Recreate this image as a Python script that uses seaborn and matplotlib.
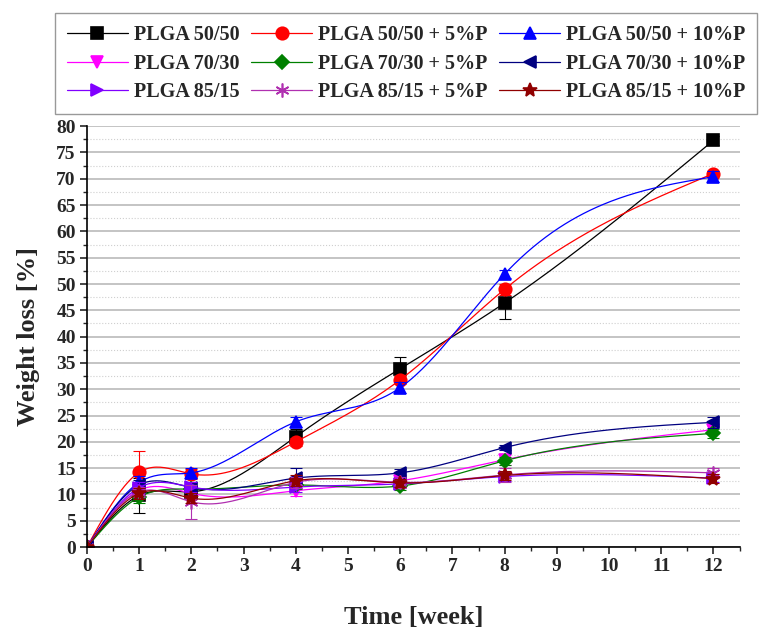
import numpy as np
import matplotlib
matplotlib.use("Agg")
import matplotlib.pyplot as plt
from matplotlib.lines import Line2D
from matplotlib.ticker import MultipleLocator
import seaborn as sns

# data
weeks = [0, 1, 2, 4, 6, 8, 12]
labels = ["PLGA 50/50", "PLGA 50/50 + 5%P", "PLGA 50/50 + 10%P",
          "PLGA 70/30", "PLGA 70/30 + 5%P", "PLGA 70/30 + 10%P",
          "PLGA 85/15", "PLGA 85/15 + 5%P", "PLGA 85/15 + 10%P"]
plga5050 = [0, 9.8, 10.5, 21.0, 33.9, 46.4, 77.3]
plga5050_5 = [0, 14.2, 13.9, 20.0, 31.8, 49.0, 71.0]
plga5050_10 = [0, 12.3, 14.1, 23.8, 30.3, 51.9, 70.4]
plga7030 = [0, 10.8, 10.2, 10.7, 12.6, 16.6, 22.3]
plga7030_5 = [0, 9.5, 11.0, 11.8, 11.6, 16.4, 21.6]
plga7030_10 = [0, 11.8, 11.3, 13.1, 14.1, 18.9, 23.7]
plga8515 = [0, 11.3, 11.4, 11.4, 12.0, 13.4, 13.1]
plga8515_5 = [0, 10.5, 8.6, 12.3, 12.3, 13.7, 14.1]
plga8515_10 = [0, 10.2, 9.3, 12.6, 12.2, 13.6, 13.0]

err5050 = [0, 3.3, 1.0, 1.5, 2.3, 3.0, 0.8]
err5050_5 = [0, 4.0, 1.0, 0.8, 0.8, 1.0, 0.5]
err5050_10 = [0, 1.2, 1.0, 1.0, 1.0, 0.8, 1.0]
err7030 = [0, 1.0, 1.0, 1.0, 1.0, 1.0, 0.8]
err7030_5 = [0, 1.2, 0.8, 0.8, 0.8, 0.8, 0.8]
err7030_10 = [0, 1.0, 1.0, 1.9, 0.8, 0.5, 1.0]
err8515 = [0, 1.0, 1.0, 1.0, 0.8, 0.8, 0.8]
err8515_5 = [0, 1.0, 3.2, 1.0, 1.0, 1.3, 1.0]
err8515_10 = [0, 1.0, 1.0, 1.0, 0.8, 0.8, 0.8]

series = [plga5050, plga5050_5, plga5050_10, plga7030, plga7030_5,
          plga7030_10, plga8515, plga8515_5, plga8515_10]
errors = [err5050, err5050_5, err5050_10, err7030, err7030_5,
          err7030_10, err8515, err8515_5, err8515_10]
colors = ["black", "#FF0000", "#0000FF", "#FF00FF", "#008000",
          "#000080", "#8000FF", "#B030B0", "#900000"]
markers = ["s", "o", "^", "v", "D", "<", ">", (6, 2, 0), "*"]
msizes = [8, 9, 9, 9, 7, 9, 9, 10, 10]


def spline(x, y, n=300):
    # natural cubic spline, like Origin's "spline" connect
    x = np.asarray(x, float)
    y = np.asarray(y, float)
    k = len(x)
    h = np.diff(x)
    A = np.zeros((k, k))
    b = np.zeros(k)
    A[0, 0] = A[-1, -1] = 1
    for i in range(1, k - 1):
        A[i, i - 1] = h[i - 1]
        A[i, i] = 2 * (h[i - 1] + h[i])
        A[i, i + 1] = h[i]
        b[i] = 3 * ((y[i + 1] - y[i]) / h[i] - (y[i] - y[i - 1]) / h[i - 1])
    c = np.linalg.solve(A, b)
    bb = (y[1:] - y[:-1]) / h - h * (2 * c[:-1] + c[1:]) / 3
    d = (c[1:] - c[:-1]) / (3 * h)
    xs = np.linspace(x[0], x[-1], n)
    idx = np.clip(np.searchsorted(x, xs) - 1, 0, k - 2)
    dx = xs - x[idx]
    ys = y[idx] + bb[idx] * dx + c[idx] * dx ** 2 + d[idx] * dx ** 3
    return xs, ys


sns.set_style("white")
plt.rcParams["font.family"] = ["Liberation Serif", "DejaVu Serif"]
plt.rcParams["font.weight"] = "bold"

fig = plt.figure(figsize=(7.65, 6.3), dpi=100)
ax = fig.add_axes([0.1137, 0.1317, 0.853, 0.668])

handles = []
for y, e, c, m, ms, lab in zip(series, errors, colors, markers, msizes, labels):
    xs, ys = spline(weeks, y)
    sns.lineplot(x=xs, y=ys, color=c, lw=0.9, ax=ax, legend=False)
    ax.errorbar(weeks, y, yerr=e, fmt="none", ecolor=c, elinewidth=0.8,
                capsize=4, capthick=0.8)
    ax.plot(weeks, y, ls="none", marker=m, ms=ms, color=c, mec=c, mew=1.2)
    handles.append(Line2D([], [], color=c, lw=0.9, marker=m, ms=ms, mec=c,
                          mew=1.2, label=lab))

ax.set_xlim(0, 12.5)
ax.set_ylim(0, 80)
ax.xaxis.set_major_locator(MultipleLocator(1))
ax.xaxis.set_minor_locator(MultipleLocator(0.5))
ax.yaxis.set_major_locator(MultipleLocator(5))
ax.yaxis.set_minor_locator(MultipleLocator(2.5))
ax.yaxis.grid(True, which="major", color="#c4c4c4", lw=1.4)
ax.yaxis.grid(True, which="minor", color="#cfcfcf", lw=0.8, ls=":")
ax.set_axisbelow(True)
for s in ["top", "right"]:
    ax.spines[s].set_visible(False)
for s in ["left", "bottom"]:
    ax.spines[s].set_color("black")
    ax.spines[s].set_linewidth(1.2)
ax.tick_params(which="major", direction="out", length=5, width=1.2,
               labelsize=14, left=True, bottom=True, pad=3)
ax.tick_params(which="minor", direction="out", length=3, width=1.0,
               left=True, bottom=True)
for t in ax.get_xticklabels() + ax.get_yticklabels():
    t.set_fontweight("bold")

ax.set_xlabel("Time [week]", fontsize=19, fontweight="bold", labelpad=22)
ax.set_ylabel("Weight loss [%]", fontsize=19, fontweight="bold", labelpad=12)

# Origin fills legend row by row
order = [0, 3, 6, 1, 4, 7, 2, 5, 8]
leg = fig.legend([handles[i] for i in order], [labels[i] for i in order],
                 ncol=3, loc="upper left", bbox_to_anchor=(0.072, 0.979),
                 borderaxespad=0,
                 prop={"family": ["Liberation Serif"], "weight": "bold",
                       "size": 14.5},
                 frameon=True, fancybox=False, edgecolor="#808080",
                 handlelength=3.0, handletextpad=0.3, columnspacing=0.6,
                 labelspacing=0.42, borderpad=0.6)
leg.get_frame().set_linewidth(1.0)

fig.savefig("out.png", dpi=100)
